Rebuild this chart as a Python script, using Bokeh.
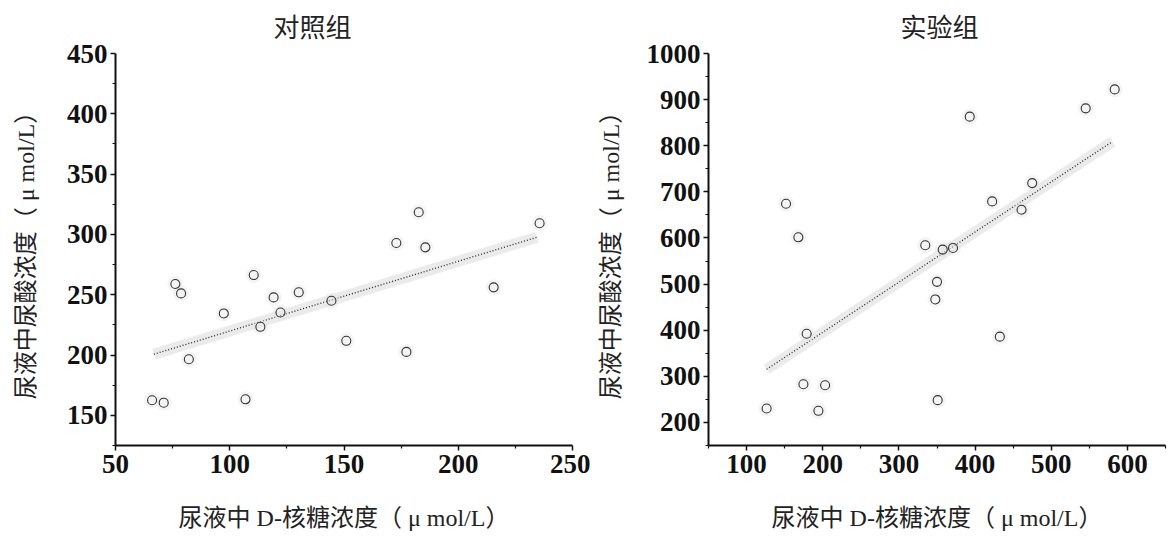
from bokeh.plotting import figure
from bokeh.layouts import row
from bokeh.models import FixedTicker, Range1d, ColumnDataSource
from bokeh.embed import file_html
from bokeh.resources import INLINE

# ---- data ----
ctrl_title = "对照组"
ctrl_x = [66.0, 71.1, 76.2, 78.7, 82.1, 97.4, 106.9, 110.5, 113.4, 119.2,
          122.2, 130.2, 144.5, 151.0, 172.9, 177.3, 182.7, 185.6, 215.5, 235.6]
ctrl_y = [162.5, 160.5, 258.9, 251.1, 196.5, 234.5, 163.3, 266.3, 223.4, 247.8,
          235.3, 252.0, 245.0, 211.8, 292.9, 202.6, 318.4, 289.3, 256.1, 309.3]
ctrl_fit_x = [66.8, 234.4]
ctrl_fit_y = [200.7, 297.6]
ctrl_xticks = [50, 100, 150, 200, 250]
ctrl_yticks = [150, 200, 250, 300, 350, 400, 450]

exp_title = "实验组"
exp_x = [126.3, 151.8, 168.0, 174.6, 178.9, 194.3, 203.1, 334.6, 347.8, 350.0,
         350.9, 357.5, 371.0, 393.0, 422.4, 432.5, 461.0, 475.0, 545.2, 583.3]
exp_y = [230.3, 674.2, 601.4, 282.9, 392.4, 225.2, 280.7, 584.1, 466.7, 504.9,
         248.3, 574.8, 578.4, 863.1, 679.3, 386.0, 661.3, 719.0, 881.1, 922.2]
exp_fit_x = [126.3, 580.3]
exp_fit_y = [315.3, 809.0]
exp_xticks = [100, 200, 300, 400, 500, 600]
exp_yticks = [200, 300, 400, 500, 600, 700, 800, 900, 1000]

x_label = "尿液中 D-核糖浓度（ μ mol/L）"
y_label = "尿液中尿酸浓度（ μ mol/L）"

CJK = "Liberation Serif, Noto Sans CJK SC"
NUM = "Liberation Serif"


def minors(ticks):
    step = ticks[1] - ticks[0]
    out = [ticks[0] - step / 2]
    for a, b in zip(ticks[:-1], ticks[1:]):
        out.append((a + b) / 2)
    out.append(ticks[-1] + step / 2)
    return out


def make(title, xs, ys, fx, fy, xr, yr, xt, yt, width, bl, br, title_offset, ylab_standoff):
    p = figure(width=width, height=534, output_backend="svg", toolbar_location=None,
               x_range=Range1d(*xr), y_range=Range1d(*yr),
               min_border_left=bl, min_border_right=br,
               min_border_top=53, min_border_bottom=89)
    p.title.text = title
    p.title.align = "left"
    p.title.offset = title_offset
    p.title.text_font = CJK
    p.title.text_font_size = "26px"
    p.title.text_font_style = "normal"
    p.title.text_color = "#222222"
    p.title.standoff = 22
    p.outline_line_color = None
    p.xgrid.visible = False
    p.ygrid.visible = False
    p.background_fill_color = "white"
    p.border_fill_color = "white"

    # trend line with faint halo
    p.line(fx, fy, line_width=11, color="#dddddd", alpha=0.6)
    p.line(fx, fy, line_width=1.3, color="#222222", line_dash="1 2")

    src = ColumnDataSource(dict(x=xs, y=ys))
    p.scatter("x", "y", source=src, marker="circle", size=16,
              fill_color="#e6e6e6", fill_alpha=0.45, line_color=None)
    p.scatter("x", "y", source=src, marker="circle", size=9,
              fill_color=None, line_color="#333333", line_width=1.1)

    for ax, ticks in ((p.xaxis, xt), (p.yaxis, yt)):
        ax.ticker = FixedTicker(ticks=ticks, minor_ticks=minors(ticks))
        ax.axis_line_color = "#111111"
        ax.axis_line_width = 2
        ax.major_tick_line_color = "#111111"
        ax.major_tick_line_width = 1.5
        ax.major_tick_out = 5
        ax.major_tick_in = 0
        ax.minor_tick_line_color = "#111111"
        ax.minor_tick_line_width = 1.2
        ax.minor_tick_out = 3
        ax.minor_tick_in = 0
        ax.major_label_text_font = NUM
        ax.major_label_text_font_style = "bold"
        ax.major_label_text_font_size = "27px"
        ax.major_label_text_color = "#111111"
        ax.axis_label_text_font = CJK
        ax.axis_label_text_font_style = "normal"
        ax.axis_label_text_font_size = "24px"
        ax.axis_label_text_color = "#222222"
    p.xaxis.axis_label = x_label
    p.yaxis.axis_label = y_label
    p.xaxis.major_label_standoff = 4
    p.yaxis.major_label_standoff = 3
    p.xaxis.axis_label_standoff = 29
    p.yaxis.axis_label_standoff = ylab_standoff
    return p


p1 = make(ctrl_title, ctrl_x, ctrl_y, ctrl_fit_x, ctrl_fit_y, (50, 250), (125, 450),
          ctrl_xticks, ctrl_yticks, width=590, bl=115, br=18, title_offset=158, ylab_standoff=25)
p2 = make(exp_title, exp_x, exp_y, exp_fit_x, exp_fit_y, (50, 650), (150, 1000),
          exp_xticks, exp_yticks, width=577, bl=118, br=2, title_offset=192, ylab_standoff=20)

layout = row(p1, p2)
open("out.html", "w").write(file_html(layout, INLINE))
